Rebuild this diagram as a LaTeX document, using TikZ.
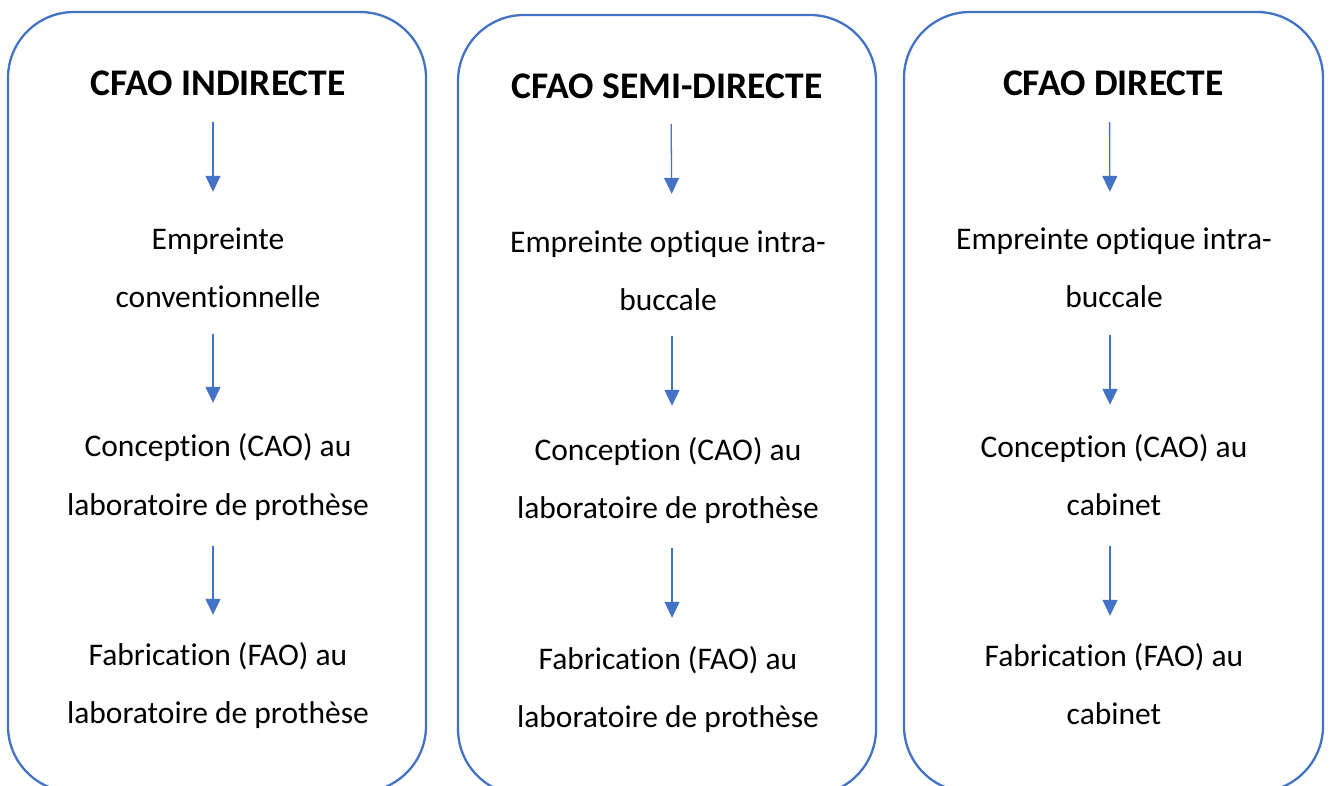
\documentclass[tikz,border=0pt]{standalone}
\usepackage{fontspec}
\setmainfont[Ligatures=NoCommon,RawFeature=-liga]{Carlito}
\usetikzlibrary{arrows.meta}
\definecolor{wordblue}{RGB}{68,114,196}
\tikzset{
  box/.style={draw=wordblue, line width=2.3pt, rounded corners=66pt},
  ttl/.style={inner sep=0pt, anchor=base, text height=22pt, text depth=7pt, font=\fontsize{37.6}{44}\selectfont\bfseries},
  txt/.style={inner sep=0pt, anchor=base, text height=22pt, text depth=7pt, font=\fontsize{31.5}{37}\selectfont},
  arr/.style={draw=wordblue, line width=1.3pt, -{Triangle[length=16pt,width=15pt]}}
}
\begin{document}
\begin{tikzpicture}[x=1pt,y=-1pt]
\useasboundingbox (0,0) rectangle (1330,785);
\fill[white] (0,0) rectangle (1330,785);
% containers
\draw[box] (8,12) rectangle (426,792);
\draw[box] (458,15) rectangle (876,795);
\draw[box] (904,12) rectangle (1323,792);
% column 1
\node[ttl] (t1) at (218,95) {CFAO INDIRECTE};
\node[txt] (e1a) at (218,249) {Empreinte};
\node[txt] (e1b) at (218,307) {conventionnelle};
\node[txt] (c1a) at (218,456) {Conception (CAO) au};
\node[txt] (c1b) at (218,515) {laboratoire de prothèse};
\node[txt] (f1a) at (218,665) {Fabrication (FAO) au};
\node[txt] (f1b) at (218,723) {laboratoire de prothèse};
\draw[arr, shorten <=20pt, shorten >=35pt] ([xshift=-5pt]t1.south) -- ([xshift=-5pt]e1a.north);
\draw[arr, shorten <=20pt, shorten >=31pt] ([xshift=-5pt]e1b.south) -- ([xshift=-5pt]c1a.north);
\draw[arr, shorten <=24pt, shorten >=28pt] ([xshift=-5pt]c1b.south) -- ([xshift=-5pt]f1a.north);
% column 2
\node[ttl] (t2) at (667,98) {CFAO SEMI-DIRECTE};
\node[txt] (e2a) at (668,252) {Empreinte optique intra-};
\node[txt] (e2b) at (668,310) {buccale};
\node[txt] (c2a) at (668,460) {Conception (CAO) au};
\node[txt] (c2b) at (668,518) {laboratoire de prothèse};
\node[txt] (f2a) at (668,669) {Fabrication (FAO) au};
\node[txt] (f2b) at (668,727) {laboratoire de prothèse};
\draw[arr, shorten <=19pt, shorten >=36pt] ([xshift=4pt]t2.south) -- ([xshift=4pt]e2a.north);
\draw[arr, shorten <=19pt, shorten >=32pt] ([xshift=4pt]e2b.south) -- ([xshift=4pt]c2a.north);
\draw[arr, shorten <=23pt, shorten >=29pt] ([xshift=4pt]c2b.south) -- ([xshift=4pt]f2a.north);
% column 3
\node[ttl] (t3) at (1113.5,95) {CFAO DIRECTE};
\node[txt] (e3a) at (1114,249) {Empreinte optique intra-};
\node[txt] (e3b) at (1114,307) {buccale};
\node[txt] (c3a) at (1114,457) {Conception (CAO) au};
\node[txt] (c3b) at (1114,515) {cabinet};
\node[txt] (f3a) at (1114,666) {Fabrication (FAO) au};
\node[txt] (f3b) at (1114,724) {cabinet};
\draw[arr, shorten <=20pt, shorten >=35pt] ([xshift=-4pt]t3.south) -- ([xshift=-4pt]e3a.north);
\draw[arr, shorten <=21pt, shorten >=30pt] ([xshift=-4pt]e3b.south) -- ([xshift=-4pt]c3a.north);
\draw[arr, shorten <=24pt, shorten >=28pt] ([xshift=-4pt]c3b.south) -- ([xshift=-4pt]f3a.north);
\end{tikzpicture}
\end{document}
